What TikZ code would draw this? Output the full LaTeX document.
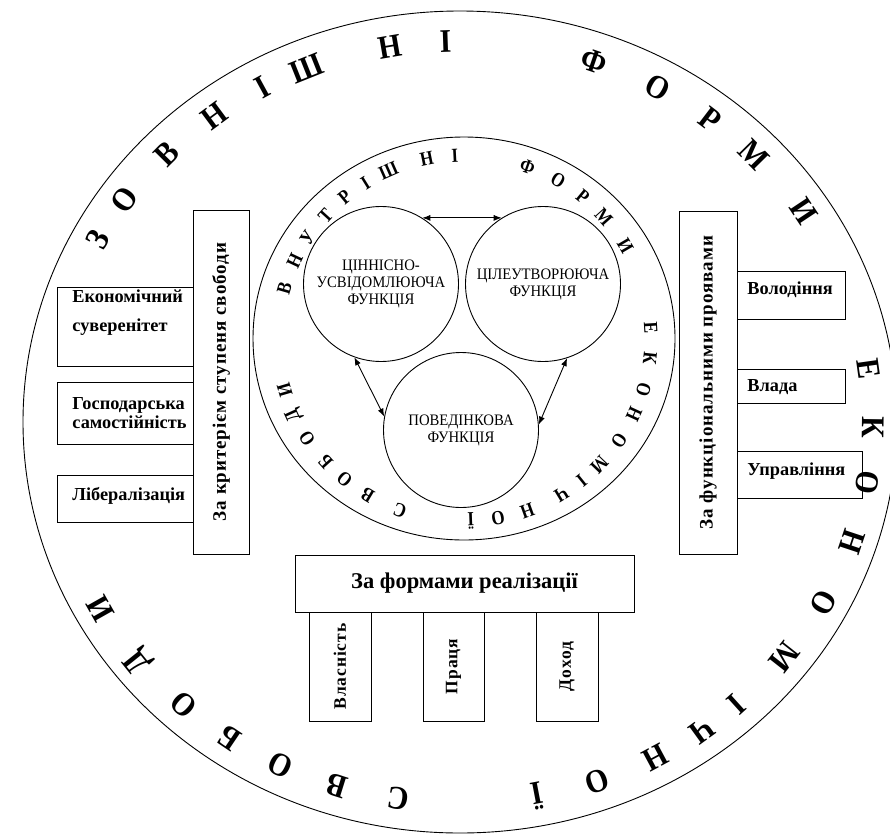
\documentclass[tikz,border=0pt]{standalone}
\usepackage{fontspec}
\setmainfont{Liberation Serif}
\newfontfamily\cfont[FakeStretch=0.92]{Liberation Serif}
\newfontfamily\ringfont[FakeStretch=0.9]{Liberation Serif}
\newfontfamily\iringfont[FakeStretch=0.85]{Liberation Serif}
\newfontfamily\spfont[LetterSpace=5]{Liberation Serif}
\usetikzlibrary{shapes.geometric,arrows.meta}
\begin{document}
\begin{tikzpicture}[x=1pt,y=-1pt,line width=0.9pt,
  box/.style={draw,rectangle,inner sep=0pt},
  btext/.style={font=\bfseries\fontsize{18.3}{19}\selectfont,inner sep=0pt,align=left},
  vtext/.style={font=\spfont\bfseries\fontsize{19}{20}\selectfont},
  stext/.style={font=\spfont\bfseries\fontsize{17.5}{18}\selectfont},
  func/.style={draw,circle,minimum size=155pt,inner sep=0pt,align=center,
    font=\cfont\fontsize{16}{17}\selectfont},
  oletter/.style={font=\ringfont\bfseries\fontsize{33}{33}\selectfont,inner sep=0pt},
  iletter/.style={font=\iringfont\bfseries\fontsize{20}{20}\selectfont,inner sep=0pt},
  arr/.style={{Latex[length=8pt,width=6pt]}-{Latex[length=8pt,width=6pt]}}]
\useasboundingbox (0,0) rectangle (890,835);
\clip (0,0) rectangle (890,835);
% outer and inner ellipses
\node[draw,ellipse,minimum width=874pt,minimum height=822pt,inner sep=0pt] (outer) at (460,422) {};
\node[draw,ellipse,minimum width=422pt,minimum height=403pt,inner sep=0pt] (inner) at (464,338.5) {};
% outer ring letters
\foreach \t/\l [count=\i] in {151.4/З,144.4/О,135.3/В,126.5/Н,118.6/І,111.8/Ш,99.7/Н,92/І,
  71.1/Ф,61.4/О,52.7/Р,44.6/М,33.6/И,
  8/Е,-0.8/К,-9.2/О,-18.4/Н,-28.4/О,-38.2/М,-47.9/І,-54.1/Ч,-61.8/Н,-70.6/О,-79.2/Ї,
  -98.6/С,-107.4/В,-115.8/О,-124/Б,-132/О,-141.2/Д,-150.6/И}
  \node[oletter,rotate=\t-90] (o\i) at ({460+413*cos(\t)},{422-381*sin(\t)}) {\l};
% inner ring letters
\foreach \t/\l [count=\i] in {163.9/В,154.8/Н,146.7/У,137.8/Т,129.6/Р,121.8/І,113.8/Ш,101.5/Н,92.8/І,
  70.2/Ф,59.8/О,50.6/Р,41.6/М,30.3/И,
  3.4/Е,-6.2/К,-16.4/О,-24.6/Н,-33.9/О,-43.6/М,-51/І,-58.6/Ч,-70.2/Н,-79.5/О,-87.9/Ї,
  -110.1/С,-121/В,-129.7/О,-137.8/Б,-147/О,-155.4/Д,-163.5/И}
  \node[iletter,rotate=\t-90] (i\i) at ({464+187*cos(\t)},{338.5-183*sin(\t)}) {\l};
% function circles
\node[func] (c1) at (381,284) {ЦІННІСНО-\\УСВІДОМЛЮЮЧА\\ФУНКЦІЯ};
\node[func] (c2) at (543,284) {ЦІЛЕУТВОРЮЮЧА\\ФУНКЦІЯ};
\node[func] (c3) at (461,430) {ПОВЕДІНКОВА\\ФУНКЦІЯ};
\draw[arr] (c1.58) -- (c2.122);
\draw[arr] (c1.250) -- (c3.170);
\draw[arr] (c2.288) -- (c3.4);
% left group
\node[box,rotate=90,minimum width=344pt,minimum height=56pt,vtext] (crit) at (221,382) {За критерієм ступеня свободи};
\node[box,minimum width=136pt,minimum height=79pt] (eks) at (125,326.5) {};
\node[btext,anchor=west] (ekst) at (72,313) {Економічний\\[10pt]суверенітет};
\node[box,minimum width=136pt,minimum height=62pt] (gos) at (125,413) {};
\node[btext,anchor=west] (gost) at (72,413) {Господарська\\самостійність};
\node[box,minimum width=136pt,minimum height=47pt] (lib) at (125,498.5) {};
\node[btext,anchor=west] (libt) at (72,496) {Лібералізація};
% right group
\node[box,rotate=90,minimum width=343pt,minimum height=58pt,vtext] (fun) at (708,382.5) {За функціональними проявами};
\node[box,minimum width=108pt,minimum height=48pt] (vol) at (791,295) {};
\node[btext,anchor=west] (volt) at (747,290) {Володіння};
\node[box,minimum width=108pt,minimum height=34pt] (vla) at (791,386) {};
\node[btext,anchor=west] (vlat) at (747,387) {Влада};
\node[box,minimum width=125pt,minimum height=47pt] (upr) at (799.5,474.5) {};
\node[btext,anchor=west] (uprt) at (747,471) {Управління};
% bottom group
\node[box,minimum width=339pt,minimum height=57pt,font=\bfseries\fontsize{22.5}{24}\selectfont] (form) at (464.5,583.5) {За формами реалізації};
\node[box,rotate=90,minimum width=109pt,minimum height=62pt,stext] (vlas) at (340,666.5) {Власність};
\node[box,rotate=90,minimum width=109pt,minimum height=61pt,stext] (pra) at (453.5,666.5) {Праця};
\node[box,rotate=90,minimum width=109pt,minimum height=62pt,stext] (dox) at (567,666.5) {Доход};
\end{tikzpicture}
\end{document}
